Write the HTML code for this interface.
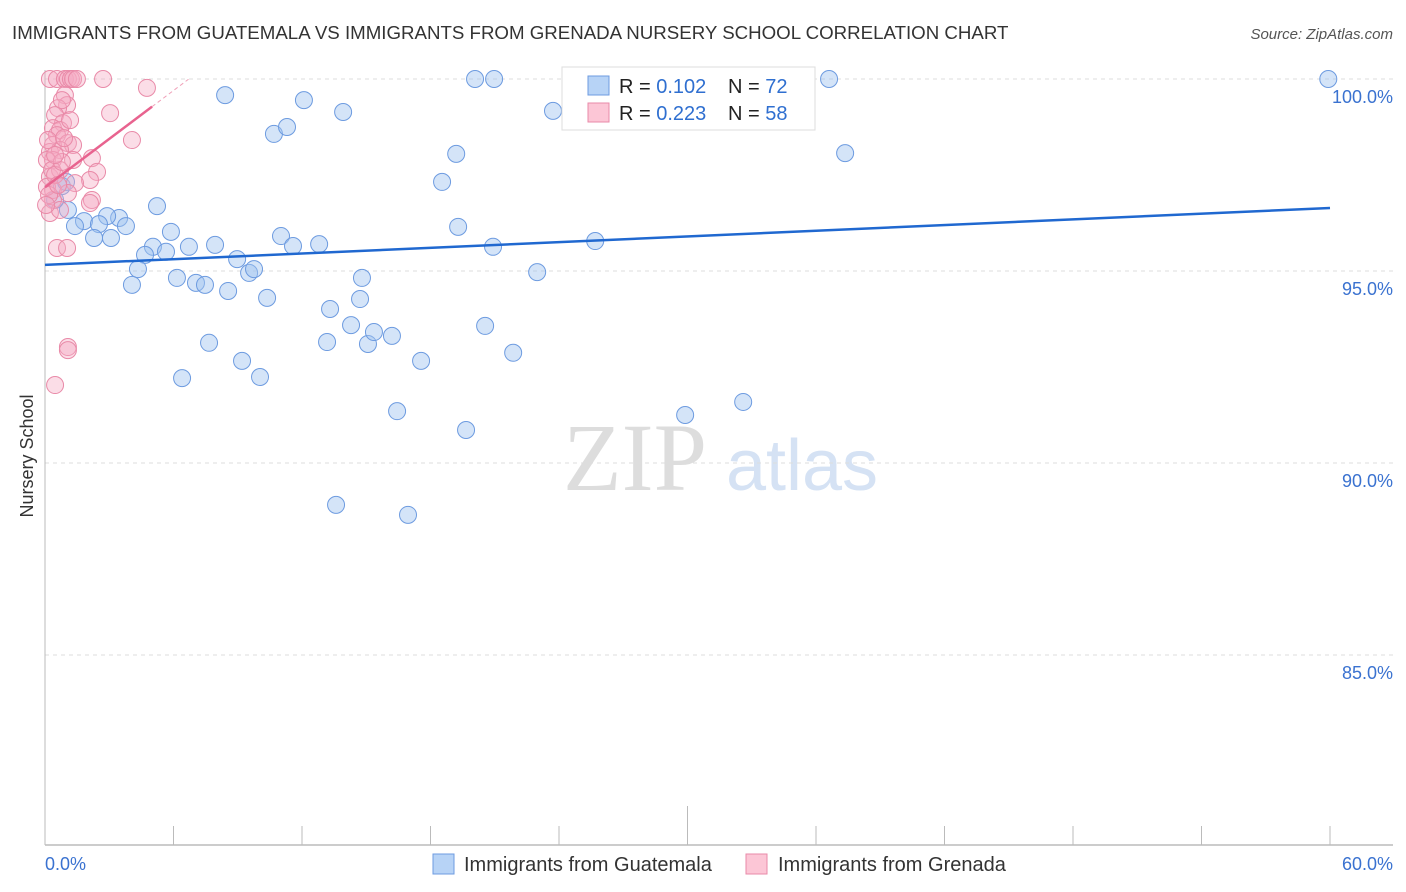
<!DOCTYPE html>
<html><head><meta charset="utf-8"><style>
body{margin:0;background:#fff;font-family:"Liberation Sans",sans-serif;}
svg{display:block}
</style></head><body>
<svg id="chart" width="1406" height="892" xmlns="http://www.w3.org/2000/svg">
<text x="12" y="39" font-size="18.7" fill="#333">IMMIGRANTS FROM GUATEMALA VS IMMIGRANTS FROM GRENADA NURSERY SCHOOL CORRELATION CHART</text>
<text x="1393" y="39" font-size="15" fill="#555" font-style="italic" text-anchor="end">Source: ZipAtlas.com</text>
<text x="33" y="456" font-size="18" fill="#333" transform="rotate(-90 33 456)" text-anchor="middle">Nursery School</text>
<g><text x="635" y="490" font-size="96" fill="#ddd" font-family="Liberation Serif,serif" text-anchor="middle">ZIP</text><text x="802" y="490" font-size="72" fill="#d5e2f4" text-anchor="middle">atlas</text></g>
<g id="grid"></g><g id="axes"></g><g id="marks"></g>
<g>
<rect x="562" y="67" width="253" height="63" fill="#fff" stroke="#ddd"/>
<rect x="588" y="76" width="21" height="19" fill="#b7d3f6" stroke="#6d9be0"/>
<rect x="588" y="103" width="21" height="19" fill="#fcc6d6" stroke="#e98aa8"/>
<text x="619" y="93" font-size="20" fill="#222">R = <tspan fill="#2f6fd0">0.102</tspan></text>
<text x="728" y="93" font-size="20" fill="#222">N = <tspan fill="#2f6fd0">72</tspan></text>
<text x="619" y="120" font-size="20" fill="#222">R = <tspan fill="#2f6fd0">0.223</tspan></text>
<text x="728" y="120" font-size="20" fill="#222">N = <tspan fill="#2f6fd0">58</tspan></text>
</g>
<g>
<rect x="433" y="854" width="21" height="20" fill="#b7d3f6" stroke="#6d9be0"/>
<text x="464" y="871" font-size="20" fill="#333">Immigrants from Guatemala</text>
<rect x="746" y="854" width="21" height="20" fill="#fcc6d6" stroke="#e98aa8"/>
<text x="778" y="871" font-size="20" fill="#333">Immigrants from Grenada</text>
</g>
</svg>
<script>
const blueX=[8.41,12.09,13.92,10.69,11.30,20.08,20.97,23.72,33.72,36.61,37.36,59.92,19.20,18.54,19.29,20.92,22.98,25.69,5.23,3.46,3.78,2.90,1.82,2.52,1.40,2.29,3.08,1.07,0.79,5.88,5.04,4.67,5.65,6.72,7.94,4.34,4.06,6.16,7.05,7.47,8.55,8.97,9.53,9.76,10.37,11.02,11.58,12.80,14.80,14.71,13.31,14.29,13.17,15.08,15.36,16.20,17.56,20.55,21.86,7.66,9.20,6.40,10.04,16.44,19.66,29.89,32.60,13.59,16.95,0.98,0.47];
const blueY=[99.58,99.45,99.14,98.57,98.75,100,100,99.17,100,100,98.07,100,98.05,97.32,96.15,95.63,94.97,95.78,96.69,96.38,96.17,96.43,96.30,96.22,96.17,95.86,95.86,96.59,97.21,96.02,95.63,95.42,95.50,95.63,95.68,95.05,94.64,94.82,94.69,94.64,94.48,95.31,94.95,95.05,94.30,95.91,95.65,95.70,94.82,94.27,94.01,93.59,93.15,93.10,93.41,93.31,92.66,93.57,92.87,93.13,92.66,92.21,92.24,91.35,90.86,91.25,91.59,88.91,88.65,97.32,96.85];
const pinkX=[0.23,0.56,0.93,1.07,1.21,1.31,1.49,2.71,4.76,0.93,1.03,0.61,3.04,0.47,0.84,0.37,0.70,4.06,0.56,1.07,0.37,1.31,0.23,0.70,0.37,2.19,1.31,2.43,2.10,1.40,0.23,0.70,0.37,1.07,0.37,2.19,2.10,0.23,0.70,0.56,1.03,1.07,1.07,0.47,0.09,0.09,0.33,0.14,0.47,0.79,0.19,0.61,0.89,1.17,0.05,0.47,0.79];
const pinkY=[100,100,100,100,100,100,100,100,99.77,99.58,99.32,99.24,99.11,99.06,98.85,98.72,98.67,98.41,98.54,98.33,98.28,98.28,98.10,98.15,97.89,97.94,97.89,97.58,97.37,97.29,97.45,97.63,97.11,97.03,96.85,96.85,96.77,96.51,96.59,95.60,95.60,93.02,92.94,92.03,97.89,97.19,97.63,98.41,97.50,97.84,96.98,97.24,98.46,98.93,96.72,98.02,99.45];
const blueTrend=[95.16,96.64];
const pinkTrend=[97.18,0.42];
const yTicks=[100,95,90,85];
const yTickLabels=["100.0%","95.0%","90.0%","85.0%"];
const xTickVals=[0,6,12,18,24,30,36,42,48,54,60];
const xLabels=["0.0%","60.0%"];
const NS="http://www.w3.org/2000/svg";
const sx=v=>45+v*(1285/60), sy=v=>79+(100-v)*38.4;
function mk(t,a,p){const e=document.createElementNS(NS,t);for(const k in a)e.setAttribute(k,a[k]);p.appendChild(e);return e;}
const grid=document.getElementById('grid'),axes=document.getElementById('axes'),marks=document.getElementById('marks');
yTicks.forEach((v,i)=>{
 const l=mk('line',{x1:45,x2:1393,y1:sy(v),y2:sy(v),stroke:'#ddd','stroke-dasharray':'4,4'},grid);
 
 
 const t=mk('text',{x:1393,y:sy(v)+24,'font-size':18,fill:'#3a72d0','text-anchor':'end'},axes);
 t.textContent=yTickLabels[i];
 
 
});
const ya=mk('line',{x1:45,x2:45,y1:70,y2:845,stroke:'#bbb'},axes);


const xa=mk('line',{x1:45,x2:1393,y1:845,y2:845,stroke:'#bbb','stroke-width':1.5},axes);


xTickVals.forEach((v,i)=>{
 const t=mk('line',{x1:sx(v),x2:sx(v),y1:i==5?806:826,y2:845,stroke:'#bbb'},axes);
 
 
});
[[0,'start',45],[60,'end',1393]].forEach((d,i)=>{
 const t=mk('text',{x:d[2],y:870,'font-size':18,fill:'#3a72d0','text-anchor':d[1]},axes);
 t.textContent=xLabels[i];
 
 
});
function dots(X,Y,fill,stroke,name){X.forEach((x,i)=>{
 const c=mk('circle',{cx:sx(x),cy:sy(Y[i]),r:8.5,fill:fill,stroke:stroke,'stroke-width':1},marks);
 
 
});}
dots(blueX,blueY,'rgba(160,196,240,0.45)','#6d9be0','guatemala-point');
dots(pinkX,pinkY,'rgba(245,170,196,0.4)','#e98aa8','grenada-point');
const bl=mk('line',{x1:sx(0),y1:sy(blueTrend[0]),x2:sx(60),y2:sy(blueTrend[1]),stroke:'#2068d0','stroke-width':2.5},marks);


const pf=x=>pinkTrend[0]+pinkTrend[1]*x;
const pl=mk('line',{x1:sx(0),y1:sy(pf(0)),x2:sx(5.0),y2:sy(pf(5.0)),stroke:'#e8638f','stroke-width':2.5},marks);


const pd=mk('line',{x1:sx(5.0),y1:sy(pf(5.0)),x2:sx(6.7),y2:sy(pf(6.7)),stroke:'#f0a0b8','stroke-width':1,'stroke-dasharray':'4,3'},marks);


</script>
</body></html>
